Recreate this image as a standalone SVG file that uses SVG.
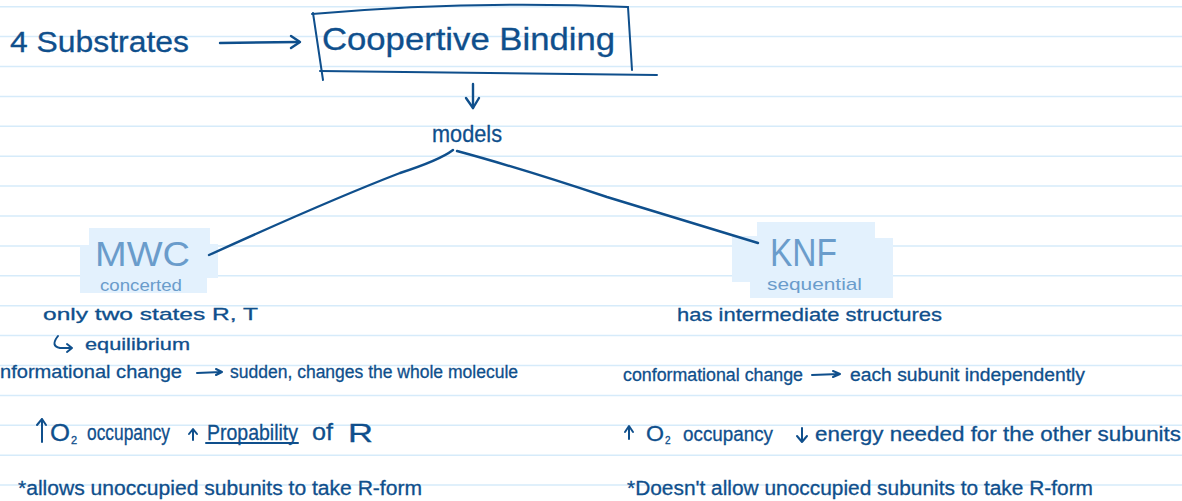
<svg xmlns="http://www.w3.org/2000/svg" width="1182" height="501" viewBox="0 0 1182 501">
<style>
.rule{stroke:#d6ebfa;stroke-width:1.5;fill:none}
.ink{fill:#0f4f8c;font-family:"Liberation Sans",Arial,sans-serif;stroke:#0f4f8c;stroke-width:0.3}
.lite{fill:#6a9ccb;font-family:"Liberation Sans",Arial,sans-serif}
.pen{stroke:#0f4f8c;stroke-width:2.4;fill:none;stroke-linecap:round;stroke-linejoin:round}
.thin{stroke:#0f4f8c;stroke-width:2;fill:none;stroke-linecap:round;stroke-linejoin:round}
.hl{fill:#e3f1fd}
</style>
<rect x="0" y="0" width="1182" height="501" fill="#ffffff"/>
<g id="ruled-lines">
<line class="rule" x1="0" y1="6.7" x2="1182" y2="6.7"/>
<line class="rule" x1="0" y1="36.6" x2="1182" y2="36.6"/>
<line class="rule" x1="0" y1="66.5" x2="1182" y2="66.5"/>
<line class="rule" x1="0" y1="96.4" x2="1182" y2="96.4"/>
<line class="rule" x1="0" y1="126.3" x2="1182" y2="126.3"/>
<line class="rule" x1="0" y1="156.2" x2="1182" y2="156.2"/>
<line class="rule" x1="0" y1="186.1" x2="1182" y2="186.1"/>
<line class="rule" x1="0" y1="216" x2="1182" y2="216"/>
<line class="rule" x1="0" y1="245.9" x2="1182" y2="245.9"/>
<line class="rule" x1="0" y1="275.8" x2="1182" y2="275.8"/>
<line class="rule" x1="0" y1="305.7" x2="1182" y2="305.7"/>
<line class="rule" x1="0" y1="335.6" x2="1182" y2="335.6"/>
<line class="rule" x1="0" y1="365.5" x2="1182" y2="365.5"/>
<line class="rule" x1="0" y1="395.4" x2="1182" y2="395.4"/>
<line class="rule" x1="0" y1="425.3" x2="1182" y2="425.3"/>
<line class="rule" x1="0" y1="455.2" x2="1182" y2="455.2"/>
<line class="rule" x1="0" y1="485.1" x2="1182" y2="485.1"/>
</g>
<g id="node-substrates">
<text class="ink" x="10" y="52" font-size="30" textLength="179" lengthAdjust="spacingAndGlyphs">4 Substrates</text>
</g>
<g id="node-cooperative-binding">
<path class="thin" d="M312,14 Q470,0 628,7"/>
<path class="thin" d="M313,13 L323,80"/>
<path class="thin" d="M628,7 L632,70"/>
<path class="thin" d="M320,71 Q490,73 657,75"/>
<text class="ink" x="322" y="50" font-size="32" textLength="293" lengthAdjust="spacingAndGlyphs">Coopertive  Binding</text>
</g>
<g id="node-models">
<text class="ink" x="432" y="142" font-size="24" textLength="70" lengthAdjust="spacingAndGlyphs">models</text>
</g>
<g id="node-mwc">
<path class="hl" d="M89,228 H210 V244 H218 V278 H207 V293 H80 V245 H89 Z"/>
<text class="lite" x="95" y="266" font-size="35" textLength="95" lengthAdjust="spacingAndGlyphs">MWC</text>
<text class="lite" x="100" y="291" font-size="17" textLength="82" lengthAdjust="spacingAndGlyphs">concerted</text>
</g>
<g id="node-knf">
<path class="hl" d="M757,222 H875 V238 H893 V298 H750 V282 H732 V236 H757 Z"/>
<text class="lite" x="770" y="266" font-size="38" textLength="67" lengthAdjust="spacingAndGlyphs">KNF</text>
<text class="lite" x="767" y="290" font-size="17" textLength="95" lengthAdjust="spacingAndGlyphs">sequential</text>
</g>
<g id="connectors">
<path class="pen" d="M220,43 L299,42"/>
<path class="pen" d="M291,36 L300,42 L291,48"/>
<path class="pen" d="M473,84 L473,108"/>
<path class="pen" d="M466,98 L473,108 L479,98"/>
<path class="pen" d="M209,255 Q330,200 400,173 Q440,160 453,150"/>
<path class="pen" d="M457,151 Q520,168 607,197 Q690,222 758,243"/>
</g>
<g id="mwc-notes">
<text class="ink" x="43" y="320" font-size="17" textLength="215" lengthAdjust="spacingAndGlyphs">only  two  states  R, T</text>
<path class="thin" d="M58,336 Q50,346 60,348 L72,348 M67,344 L72,348 L67,352"/>
<text class="ink" x="85" y="350" font-size="17" textLength="105" lengthAdjust="spacingAndGlyphs">equilibrium</text>
<text class="ink" x="0" y="378" font-size="19" textLength="182" lengthAdjust="spacingAndGlyphs">nformational  change</text>
<path class="thin" d="M197,373 L221,372 M216,369 L222,372 L216,375"/>
<text class="ink" x="230" y="378" font-size="18" textLength="288" lengthAdjust="spacingAndGlyphs">sudden, changes the whole molecule</text>
<path class="thin" d="M42,442 L42,419 M37,425 L42,419 L46,425"/>
<text class="ink" x="50" y="441" font-size="24" textLength="20" lengthAdjust="spacingAndGlyphs">O</text>
<text class="ink" x="71" y="444" font-size="11">2</text>
<text class="ink" x="87" y="440" font-size="22" textLength="83" lengthAdjust="spacingAndGlyphs">occupancy</text>
<path class="thin" d="M193,440 L193,430 M189,434 L193,429 L197,434"/>
<text class="ink" x="207" y="440" font-size="22" textLength="91" lengthAdjust="spacingAndGlyphs">Propability</text>
<path class="thin" d="M206,443 L298,443"/>
<text class="ink" x="312" y="440" font-size="24" textLength="21" lengthAdjust="spacingAndGlyphs">of</text>
<text class="ink" x="348" y="442" font-size="25" textLength="25" lengthAdjust="spacingAndGlyphs">R</text>
<text class="ink" x="18" y="495" font-size="20" textLength="404" lengthAdjust="spacingAndGlyphs">*allows  unoccupied  subunits  to take  R-form</text>
</g>
<g id="knf-notes">
<text class="ink" x="677" y="321" font-size="19" textLength="265" lengthAdjust="spacingAndGlyphs">has  intermediate  structures</text>
<text class="ink" x="623" y="381" font-size="18" textLength="180" lengthAdjust="spacingAndGlyphs">conformational  change</text>
<path class="thin" d="M812,375 L839,374 M833,371 L840,374 L833,377"/>
<text class="ink" x="850" y="381" font-size="18" textLength="235" lengthAdjust="spacingAndGlyphs">each  subunit  independently</text>
<path class="thin" d="M629,439 L629,427 M625,432 L629,426 L633,432"/>
<text class="ink" x="646" y="441" font-size="22" textLength="18" lengthAdjust="spacingAndGlyphs">O</text>
<text class="ink" x="665" y="444" font-size="10">2</text>
<text class="ink" x="683" y="441" font-size="20" textLength="90" lengthAdjust="spacingAndGlyphs">occupancy</text>
<path class="thin" d="M802,428 L802,442 M797,436 L802,442 L807,436"/>
<text class="ink" x="815" y="441" font-size="20" textLength="366" lengthAdjust="spacingAndGlyphs">energy  needed  for the  other  subunits</text>
<text class="ink" x="627" y="495" font-size="20" textLength="466" lengthAdjust="spacingAndGlyphs">*Doesn't  allow  unoccupied  subunits  to take  R-form</text>
</g>
</svg>
